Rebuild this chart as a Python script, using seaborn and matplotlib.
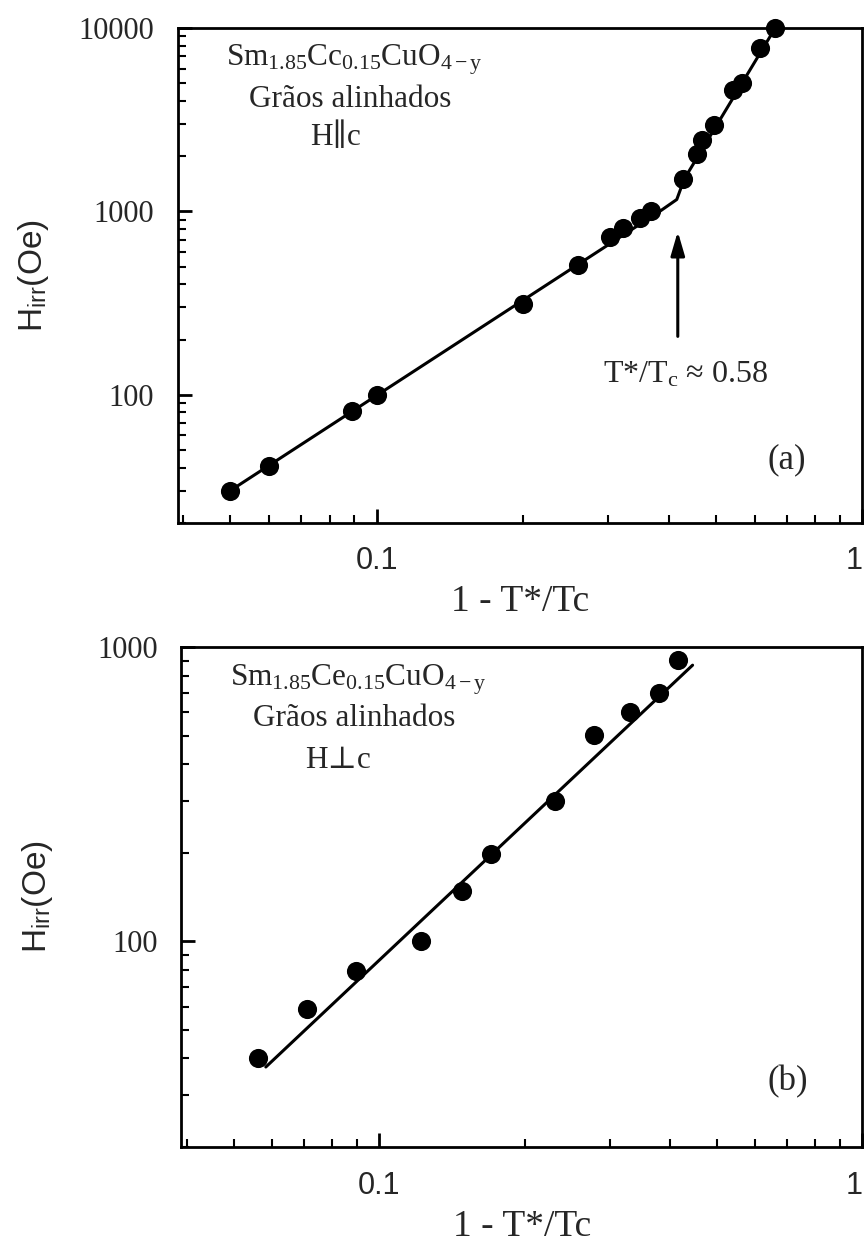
import matplotlib
matplotlib.use("Agg")
import matplotlib.pyplot as plt
import seaborn as sns
import pandas as pd
from matplotlib.ticker import FixedLocator, FixedFormatter, LogLocator, NullFormatter

# ---------------- data ----------------
# panel (a): H || c
xa = [0.050, 0.060, 0.089, 0.100, 0.200, 0.260, 0.302, 0.322, 0.348, 0.368,
      0.427, 0.456, 0.467, 0.494, 0.543, 0.565, 0.616, 0.662]
ya = [30, 41, 82, 100, 313, 511, 723, 809, 919, 998,
      1497, 2056, 2454, 2960, 4590, 5000, 7740, 10000]
fit_a_x = [0.050, 0.385, 0.415, 0.430, 0.662]
fit_a_y = [30, 1010, 1160, 1500, 10000]

# panel (b): H perpendicular c
xb = [0.0563, 0.0710, 0.0894, 0.1223, 0.1483, 0.1705, 0.231, 0.279, 0.330, 0.379, 0.415]
yb = [40, 59, 79, 100, 148, 198, 301, 501, 601, 698, 903]
fit_b_x = [0.0583, 0.4455]
fit_b_y = [37.4, 868]

x_ticks = [0.1, 1]
x_ticklabels = ["0.1", "1"]
ya_ticks = [100, 1000, 10000]
ya_ticklabels = ["100", "1000", "10000"]
yb_ticks = [100, 1000]
yb_ticklabels = ["100", "1000"]

arrow_x = 0.417
arrow_y = [208, 776]
arrow_text = "T*/T$_{\\mathregular{c}}$ \u2248 0.58"

# ---------------- style ----------------
sns.set_theme(style="ticks")
SERIF = ["Liberation Serif", "DejaVu Serif"]
SANS = ["Liberation Sans", "DejaVu Sans"]
plt.rcParams["font.family"] = SERIF
plt.rcParams["mathtext.fontset"] = "custom"
plt.rcParams["mathtext.rm"] = "Liberation Serif"
plt.rcParams["mathtext.it"] = "Liberation Serif:italic"

fig = plt.figure(figsize=(8.64, 12.42), dpi=100)
ax_a = fig.add_axes([0.206, 0.579, 0.792, 0.3985])
ax_b = fig.add_axes([0.210, 0.0765, 0.788, 0.4025])

dfa = pd.DataFrame({"x": xa, "y": ya})
dfa_fit = pd.DataFrame({"x": fit_a_x, "y": fit_a_y})
dfb = pd.DataFrame({"x": xb, "y": yb})
dfb_fit = pd.DataFrame({"x": fit_b_x, "y": fit_b_y})


def style_axis(ax, ylim, yticks, yticklabels):
    ax.set_xscale("log")
    ax.set_yscale("log")
    ax.set_xlim(0.039, 1.0)
    ax.set_ylim(*ylim)
    ax.xaxis.set_major_locator(FixedLocator(x_ticks))
    ax.xaxis.set_major_formatter(FixedFormatter(x_ticklabels))
    ax.xaxis.set_minor_locator(LogLocator(base=10, subs=range(2, 10), numticks=20))
    ax.xaxis.set_minor_formatter(NullFormatter())
    ax.yaxis.set_major_locator(FixedLocator(yticks))
    ax.yaxis.set_major_formatter(FixedFormatter(yticklabels))
    ax.yaxis.set_minor_locator(LogLocator(base=10, subs=range(2, 10), numticks=20))
    ax.yaxis.set_minor_formatter(NullFormatter())
    ax.tick_params(which="both", direction="in", top=False, right=False, color="black")
    ax.tick_params(which="major", length=10, width=2, pad=17)
    ax.tick_params(which="minor", length=6, width=1.5)
    xlabs = ax.get_xticklabels()
    for lab in xlabs:
        lab.set_fontfamily(SANS)
        lab.set_fontsize(22)
    # keep the right-edge "1" label inside the canvas
    xlabs[-1].set_horizontalalignment("right")
    for lab in ax.get_yticklabels():
        lab.set_fontfamily(SERIF)
        lab.set_fontsize(22)
    for s in ax.spines.values():
        s.set_linewidth(2)
        s.set_color("black")
    ax.set_xlabel("1 - T*/Tc", fontsize=27, family=SERIF)
    ax.set_ylabel("H$_{\\mathregular{irr}}$(Oe)", fontsize=24, family=SANS)
    ax.xaxis.set_label_coords(0.5, -0.125)
    ax.yaxis.set_label_coords(-0.185, 0.5)


for ax, df, dff, ylim, yt, ytl in [
    (ax_a, dfa, dfa_fit, (20, 10000), ya_ticks, ya_ticklabels),
    (ax_b, dfb, dfb_fit, (20, 1000), yb_ticks, yb_ticklabels),
]:
    sns.lineplot(data=dff, x="x", y="y", ax=ax, color="black", linewidth=2.2,
                 sort=False, estimator=None)
    sns.scatterplot(data=df, x="x", y="y", ax=ax, color="black", s=190,
                    edgecolor="black", linewidth=0, zorder=5, clip_on=False)
    style_axis(ax, ylim, yt, ytl)

TXT = 22.5

# annotations panel (a)
ax_a.annotate("", xy=(arrow_x, arrow_y[1]), xytext=(arrow_x, arrow_y[0]),
              arrowprops=dict(arrowstyle="-|>,head_length=1.2,head_width=0.35",
                              lw=2.2, color="black", shrinkA=0, shrinkB=0))
ax_a.text(0.433, 129, arrow_text, fontsize=23, family=SERIF, ha="center", va="center")
ax_a.text(0.70, 44, "(a)", fontsize=25, family=SERIF, ha="center", va="center")

ax_a.text(0.258, 0.935, "Sm$_{\\mathregular{1.85}}$Cc$_{\\mathregular{0.15}}$CuO$_{\\mathregular{4-y}}$",
          transform=ax_a.transAxes, fontsize=TXT, family=SERIF, ha="center", va="center")
ax_a.text(0.252, 0.855, "Grãos alinhados", transform=ax_a.transAxes, fontsize=TXT,
          family=SERIF, ha="center", va="center")
ax_a.text(0.230, 0.778, "H\u2225c", transform=ax_a.transAxes, fontsize=TXT,
          family=SERIF, ha="center", va="center")

# annotations panel (b)
ax_b.text(0.70, 33.3, "(b)", fontsize=25, family=SERIF, ha="center", va="center")
ax_b.text(0.260, 0.934, "Sm$_{\\mathregular{1.85}}$Ce$_{\\mathregular{0.15}}$CuO$_{\\mathregular{4-y}}$",
          transform=ax_b.transAxes, fontsize=TXT, family=SERIF, ha="center", va="center")
ax_b.text(0.254, 0.858, "Grãos alinhados", transform=ax_b.transAxes, fontsize=TXT,
          family=SERIF, ha="center", va="center")
ax_b.text(0.230, 0.774, "H\u22a5c", transform=ax_b.transAxes, fontsize=TXT,
          family=SERIF, ha="center", va="center")

fig.savefig("out.png", dpi=100, facecolor="white")
